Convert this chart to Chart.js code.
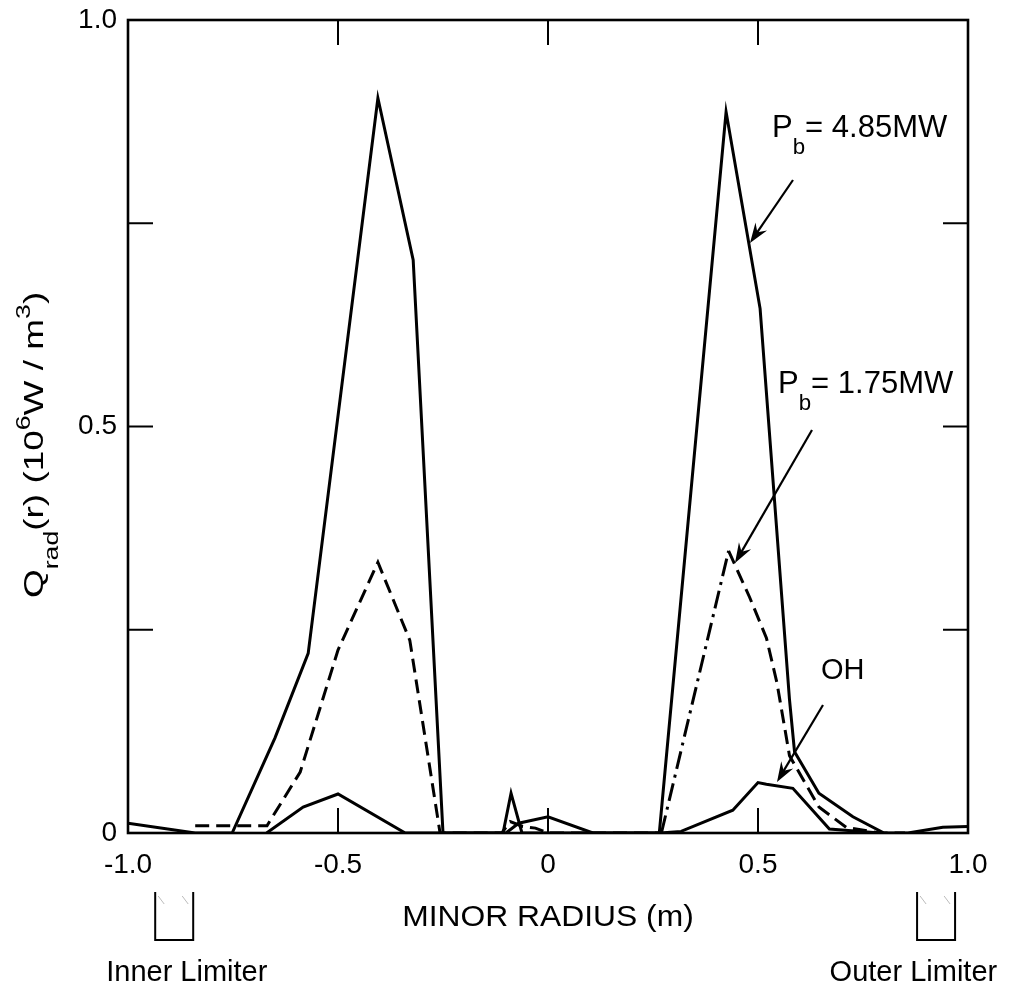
<!DOCTYPE html>
<html>
<head>
<meta charset="utf-8">
<script src="https://cdn.jsdelivr.net/npm/chart.js@4.4.0/dist/chart.umd.min.js"></script>
<style>
  html, body { margin: 0; padding: 0; background: #fff; }
  canvas { display: block; }
</style>
</head>
<body>
<canvas id="radChart" width="1017" height="987"></canvas>
<script>
// radiated power profiles across the minor radius
const r485 = [-1.0, -0.84, -0.752, -0.65, -0.571, -0.405, -0.321, -0.25, -0.107, -0.088, -0.062, 0.265, 0.424, 0.505, 0.575, 0.587, 0.645, 0.726, 0.80, 0.857, 0.94, 1.0];
const q485 = [0.012, 0.0, 0.0, 0.117, 0.221, 0.904, 0.705, 0.0, 0.0, 0.049, 0.0, 0.0, 0.887, 0.645, 0.164, 0.10, 0.049, 0.02, 0.0, 0.0, 0.007, 0.008];

const r175 = [-0.84, -0.669, -0.59, -0.50, -0.405, -0.329, -0.257, -0.11, -0.09, -0.06, -0.03, 0.0, 0.27, 0.43, 0.48, 0.52, 0.545, 0.575, 0.645, 0.71, 0.79, 0.85];
const q175 = [0.009, 0.009, 0.075, 0.225, 0.333, 0.237, 0.0, 0.0, 0.014, 0.008, 0.006, 0.0, 0.0, 0.347, 0.29, 0.24, 0.185, 0.095, 0.032, 0.007, 0.0, 0.0];

const rOH = [-0.67, -0.583, -0.50, -0.34, -0.10, -0.07, 0.0, 0.107, 0.267, 0.317, 0.44, 0.50, 0.52, 0.583, 0.67, 0.79];
const qOH = [0.0, 0.032, 0.048, 0.0, 0.0, 0.012, 0.02, 0.0, 0.0, 0.002, 0.028, 0.062, 0.06, 0.055, 0.005, 0.0];

const xTicks = [-1.0, -0.5, 0, 0.5, 1.0];
const yTickLabels = { 0: '0', 0.5: '0.5', 1: '1.0' };

const FONT = '"Liberation Sans", Arial, Helvetica, sans-serif';

function toPoints(xs, ys) {
    return xs.map((x, i) => ({ x: x, y: ys[i] }));
}

// draws text runs with sub/superscripts, starting at (x, y) baseline
function richText(ctx, parts, x, y, size) {
    let cx = x;
    parts.forEach(p => {
        const s = p.sub || p.sup ? size * 0.72 : size;
        ctx.font = s + 'px ' + FONT;
        const dy = p.sub ? size * 0.55 : p.sup ? -size * 0.48 : 0;
        ctx.fillText(p.t, cx, y + dy);
        cx += ctx.measureText(p.t).width;
    });
}

function arrow(ctx, x0, y0, x1, y1) {
    const a = Math.atan2(y1 - y0, x1 - x0);
    ctx.beginPath();
    ctx.moveTo(x0, y0);
    ctx.lineTo(x1 - 10 * Math.cos(a), y1 - 10 * Math.sin(a));
    ctx.lineWidth = 2.2;
    ctx.stroke();
    const len = 20, half = 7;
    ctx.beginPath();
    ctx.moveTo(x1, y1);
    ctx.lineTo(x1 - len * Math.cos(a) + half * Math.sin(a), y1 - len * Math.sin(a) - half * Math.cos(a));
    ctx.lineTo(x1 - 13 * Math.cos(a), y1 - 13 * Math.sin(a));
    ctx.lineTo(x1 - len * Math.cos(a) - half * Math.sin(a), y1 - len * Math.sin(a) + half * Math.cos(a));
    ctx.closePath();
    ctx.fill();
}

function limiter(ctx, cx, top) {
    ctx.save();
    ctx.lineWidth = 2;
    ctx.strokeStyle = '#000';
    ctx.beginPath();
    ctx.moveTo(cx - 19, top);
    ctx.lineTo(cx - 19, top + 48);
    ctx.lineTo(cx + 19, top + 48);
    ctx.lineTo(cx + 19, top);
    ctx.stroke();
    ctx.strokeStyle = '#bbb';
    ctx.lineWidth = 1;
    ctx.beginPath();
    ctx.moveTo(cx - 16, top + 4); ctx.lineTo(cx - 10, top + 12);
    ctx.moveTo(cx + 8, top + 4); ctx.lineTo(cx + 14, top + 12);
    ctx.stroke();
    ctx.restore();
}

const frame = {
    id: 'frame',
    afterDatasetsDraw(chart) {
        const ctx = chart.ctx;
        const a = chart.chartArea;
        const xs = chart.scales.x, ys = chart.scales.y;
        ctx.save();
        ctx.strokeStyle = '#000';
        ctx.fillStyle = '#000';
        ctx.lineWidth = 2.6;
        ctx.strokeRect(a.left, a.top, a.right - a.left, a.bottom - a.top);

        // inward tick marks on all four sides
        ctx.lineWidth = 2;
        const tl = 25;
        ctx.beginPath();
        [-0.5, 0, 0.5].forEach(v => {
            const px = xs.getPixelForValue(v);
            ctx.moveTo(px, a.bottom); ctx.lineTo(px, a.bottom - tl);
            ctx.moveTo(px, a.top); ctx.lineTo(px, a.top + tl);
        });
        [0.25, 0.5, 0.75].forEach(v => {
            const py = ys.getPixelForValue(v);
            ctx.moveTo(a.left, py); ctx.lineTo(a.left + tl, py);
            ctx.moveTo(a.right, py); ctx.lineTo(a.right - tl, py);
        });
        ctx.stroke();

        // curve labels with arrows
        ctx.textAlign = 'left';
        ctx.textBaseline = 'alphabetic';
        richText(ctx, [{ t: 'P' }, { t: 'b', sub: true }, { t: '= 4.85MW' }], 772, 137, 31);
        richText(ctx, [{ t: 'P' }, { t: 'b', sub: true }, { t: '= 1.75MW' }], 778, 393, 31);
        richText(ctx, [{ t: 'OH' }], 821, 679, 29);
        arrow(ctx, 793, 180, 750, 243);
        arrow(ctx, 812, 430, 735, 563);
        arrow(ctx, 823, 705, 777, 782);

        // y axis title, rotated
        ctx.save();
        ctx.translate(43, 598);
        ctx.rotate(-Math.PI / 2);
        ctx.scale(1.32, 1);
        richText(ctx, [{ t: 'Q' }, { t: 'rad', sub: true }, { t: '(r) (10' }, { t: '6', sup: true }, { t: 'W / m' }, { t: '3', sup: true }, { t: ')' }], 0, 0, 28);
        ctx.restore();

        // x axis title and limiter markers
        ctx.save();
        ctx.translate((a.left + a.right) / 2, 926);
        ctx.scale(1.06, 1);
        ctx.font = '30px ' + FONT;
        ctx.textAlign = 'center';
        ctx.fillText('MINOR RADIUS (m)', 0, 0);
        ctx.restore();
        limiter(ctx, xs.getPixelForValue(-0.89), 892);
        limiter(ctx, xs.getPixelForValue(0.924), 892);
        ctx.textAlign = 'center';
        ctx.font = '29px ' + FONT;
        ctx.fillText('Inner Limiter', xs.getPixelForValue(-0.86), 981);
        ctx.fillText('Outer Limiter', xs.getPixelForValue(0.87), 981);
        ctx.restore();
    }
};

const lineStyle = { borderColor: '#000', borderWidth: 3, pointRadius: 0, tension: 0, fill: false };

new Chart(document.getElementById('radChart'), {
    type: 'line',
    data: {
        datasets: [
            Object.assign({ label: 'Pb = 4.85MW', data: toPoints(r485, q485) }, lineStyle),
            Object.assign({
                label: 'Pb = 1.75MW', data: toPoints(r175, q175), borderDash: [14, 7],
                segment: {
                    borderDash: ctx => (ctx.p0.parsed.x >= 0.26 && ctx.p1.parsed.x <= 0.44) ? [18, 6, 3, 6] : undefined
                }
            }, lineStyle),
            Object.assign({ label: 'OH', data: toPoints(rOH, qOH) }, lineStyle)
        ]
    },
    options: {
        responsive: false,
        animation: false,
        layout: { padding: { top: 20, right: 49, left: 0, bottom: 0 } },
        plugins: { legend: { display: false }, tooltip: { enabled: false } },
        scales: {
            x: {
                type: 'linear', min: -1, max: 1,
                afterFit: s => { s.height = 154; },
                afterBuildTicks: s => { s.ticks = xTicks.map(v => ({ value: v })); },
                grid: { display: false, drawTicks: false },
                border: { display: false },
                ticks: {
                    padding: 15, color: '#000', maxRotation: 0, autoSkip: false,
                    font: { family: FONT, size: 28 },
                    callback: v => v === 0 ? '0' : v.toFixed(1)
                }
            },
            y: {
                min: 0, max: 1,
                afterFit: s => { s.width = 128; },
                grid: { display: false, drawTicks: false },
                border: { display: false },
                ticks: {
                    stepSize: 0.25, padding: 11, color: '#000', autoSkip: false,
                    font: { family: FONT, size: 28, lineHeight: 0.6 },
                    callback: v => yTickLabels[v] !== undefined ? yTickLabels[v] : ''
                }
            }
        }
    },
    plugins: [frame]
});
</script>
</body>
</html>
